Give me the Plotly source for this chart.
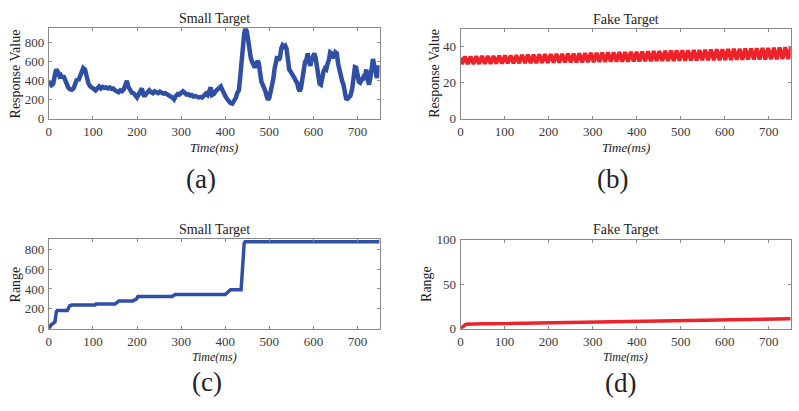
import plotly.graph_objects as go

W, H = 799, 411

# ---------------- data ----------------
small_t = [0, 3, 6, 10, 14, 17, 20, 24, 27, 30, 33, 36, 40, 44, 48, 52, 56, 60, 64, 67, 70, 74, 78, 82, 86, 90,
           94, 98, 102, 106, 110, 114, 118, 122, 126, 130, 134, 138, 142, 146, 150, 154, 158, 162, 166, 170, 174,
           177, 180, 184, 188, 192, 196, 200, 204, 208, 211, 214, 217, 220, 224, 228, 232, 236, 240, 244, 248, 252,
           256, 260, 264, 268, 272, 276, 280, 284, 288, 292, 296, 300, 304, 308, 312, 316, 320, 324, 328, 332, 336,
           340, 344, 348, 352, 356, 360, 364, 367, 370, 374, 378, 382, 386, 390, 393, 396, 400, 404, 408, 412, 416,
           420, 424, 428, 431, 434, 437, 440, 443, 446, 449, 452, 455, 458, 461, 464, 467, 470, 473, 476, 479, 482,
           485, 488, 491, 494, 497, 500, 503, 506, 509, 512, 515, 518, 521, 524, 527, 530, 533, 536, 539, 542, 545,
           548, 551, 554, 557, 560, 563, 566, 569, 572, 575, 578, 581, 584, 587, 590, 593, 596, 599, 602, 605, 608,
           611, 614, 617, 620, 623, 626, 629, 632, 635, 638, 641, 644, 647, 650, 653, 656, 659, 662, 665, 668, 671,
           674, 677, 680, 684, 688, 691, 694, 697, 700, 703, 706, 709, 712, 715, 718, 720, 723, 726, 729, 732, 735,
           738, 741, 744, 747, 750]
small_resp = [390, 380, 355, 370, 470, 520, 500, 450, 460, 430, 455, 420, 370, 330, 310, 305, 320, 370, 420, 400,
              440, 500, 535, 520, 440, 370, 340, 320, 315, 300, 330, 340, 320, 335, 325, 330, 320, 330, 315, 320,
              300, 290, 280, 300, 290, 310, 380, 400, 340, 300, 275, 270, 245, 225, 260, 310, 320, 260, 235, 260,
              280, 300, 280, 270, 290, 280, 270, 285, 270, 265, 270, 255, 250, 235, 225, 205, 240, 260, 255, 280,
              290, 275, 255, 260, 245, 250, 235, 240, 230, 225, 230, 225, 245, 265, 250, 320, 330, 250, 260, 290,
              310, 320, 340, 310, 270, 240, 210, 180, 165, 160, 185, 220, 280, 300, 440, 640, 780, 900, 955, 920,
              830, 700, 640, 600, 550, 540, 570, 610, 590, 480, 390, 360, 330, 290, 240, 200, 220, 280, 350, 420,
              530, 640, 660, 620, 640, 740, 775, 760, 770, 740, 620, 520, 500, 480, 470, 430, 400, 380, 320, 290,
              330, 450, 520, 600, 620, 690, 600, 560, 620, 680, 690, 640, 530, 450, 370, 360, 440, 500, 530, 520,
              580, 620, 700, 690, 660, 640, 700, 690, 580, 500, 470, 400, 360, 300, 215, 210, 230, 245, 320, 420,
              545, 540, 440, 390, 380, 400, 430, 410, 500, 520, 420, 360, 430, 560, 630, 560, 470, 430, 560, 510]

fake_half_period = 6.5
fake_start = 34.0
fake_peaks = [34.6, 34.7, 34.8, 34.9, 35.0, 35.0, 35.1, 35.2, 35.3, 35.4, 35.5, 35.6, 35.7, 35.8, 35.9, 36.0,
              36.1, 36.1, 36.2, 36.3, 36.4, 36.5, 36.6, 36.7, 36.8, 36.9, 37.0, 37.1, 37.1, 37.2, 37.3, 37.4,
              37.5, 37.6, 37.7, 37.8, 37.9, 38.0, 38.1, 38.1, 38.2, 38.3, 38.4, 38.5, 38.6, 38.7, 38.8, 38.9,
              39.0, 39.1, 39.1, 39.2, 39.3, 39.4, 39.5, 39.6, 39.8, 40.0]
fake_troughs = [30.4, 30.4, 30.5, 30.5, 30.6, 30.6, 30.7, 30.7, 30.8, 30.8, 30.9, 30.9, 31.0, 31.0, 31.1, 31.1,
                31.2, 31.2, 31.3, 31.3, 31.4, 31.4, 31.5, 31.5, 31.6, 31.6, 31.7, 31.7, 31.8, 31.8, 31.9, 31.9,
                32.0, 32.0, 32.1, 32.1, 32.2, 32.2, 32.3, 32.3, 32.4, 32.4, 32.5, 32.5, 32.6, 32.6, 32.7, 32.7,
                32.8, 32.8, 32.9, 32.9, 33.0, 33.0, 33.1, 33.1, 33.2, 33.2]

small_range_t = [0, 2, 5, 10, 14, 17, 19, 42, 44, 47, 52, 105, 107, 150, 155, 159, 190, 195, 199, 202, 280, 283,
                 287, 400, 405, 410, 412, 436, 440, 443, 445, 750]
small_range = [0, 20, 40, 55, 70, 170, 185, 185, 215, 230, 238, 238, 250, 250, 265, 280, 280, 290, 300, 325, 325,
               335, 345, 345, 365, 385, 392, 392, 700, 860, 875, 875]

fake_range_t = [0, 3, 8, 12, 50, 100, 150, 200, 250, 300, 350, 400, 450, 500, 550, 600, 650, 700, 750]
fake_range = [0, 1.5, 4.5, 5.2, 5.6, 6.0, 6.4, 6.9, 7.3, 7.7, 8.1, 8.5, 8.9, 9.3, 9.7, 10.1, 10.5, 10.9, 11.3]

x_ticks = [0, 100, 200, 300, 400, 500, 600, 700]

# build fake response series (alternating trough / peak samples)
fake_t = [0.0]
fake_resp = [fake_start]
for i, (tr, pk) in enumerate(zip(fake_troughs, fake_peaks)):
    fake_t.append(fake_half_period * (2 * i + 0.5))
    fake_resp.append(tr)
    fake_t.append(fake_half_period * (2 * i + 1.5))
    fake_resp.append(pk)

BLUE = "#2F4FA6"
RED = "#EE2229"
AX = "#8a8a8a"
TXT = "#3a3a3a"
FONT = "Liberation Serif"

fig = go.Figure()
fig.add_trace(go.Scatter(x=small_t, y=small_resp, mode="lines", line=dict(color=BLUE, width=4.5),
                         xaxis="x", yaxis="y", showlegend=False))
fig.add_trace(go.Scatter(x=fake_t, y=fake_resp, mode="lines", line=dict(color=RED, width=4),
                         xaxis="x2", yaxis="y2", showlegend=False))
fig.add_trace(go.Scatter(x=small_range_t, y=small_range, mode="lines", line=dict(color=BLUE, width=3.5),
                         xaxis="x3", yaxis="y3", showlegend=False))
fig.add_trace(go.Scatter(x=fake_range_t, y=fake_range, mode="lines", line=dict(color=RED, width=3.5),
                         xaxis="x4", yaxis="y4", showlegend=False))


def px(x):
    return x / W


def py(y):
    return 1 - y / H


def axis_common():
    return dict(showline=True, linecolor=AX, linewidth=1, mirror="ticks", ticks="inside", ticklen=3,
                tickcolor=AX, showgrid=False, zeroline=False,
                tickfont=dict(family=FONT, size=13, color=TXT))


boxes = {
    "1": dict(x=(46, 378), y=(22, 116), yr=[0, 955], yt=[0, 200, 400, 600, 800]),
    "2": dict(x=(459.3, 790.7), y=(22.7, 116), yr=[0, 50], yt=[0, 20, 40]),
    "3": dict(x=(46, 378), y=(241, 334), yr=[0, 900], yt=[0, 200, 400, 600, 800]),
    "4": dict(x=(459.3, 790.7), y=(241.7, 334), yr=[0, 100], yt=[0, 50, 100]),
}
lay = {}
for k, b in boxes.items():
    xa = "xaxis" if k == "1" else "xaxis" + k
    ya = "yaxis" if k == "1" else "yaxis" + k
    yref = "y" if k == "1" else "y" + k
    xref = "x" if k == "1" else "x" + k
    lay[xa] = dict(domain=[px(b["x"][0]), px(b["x"][1])], range=[0, 750], tickvals=x_ticks,
                   anchor=yref, ticklabelstandoff=1, **axis_common())
    lay[ya] = dict(domain=[py(b["y"][1]), py(b["y"][0])], range=b["yr"], tickvals=b["yt"],
                   anchor=xref, ticklabelstandoff=1, **axis_common())

fig.update_layout(width=W, height=H, margin=dict(l=0, r=0, t=0, b=0), paper_bgcolor="white",
                  plot_bgcolor="white", **lay)


def ann(text, x, y, size, italic=False, angle=0):
    fig.add_annotation(text=f"<i>{text}</i>" if italic else text, x=px(x), y=py(y), xref="paper", yref="paper",
                       showarrow=False, xanchor="center", yanchor="middle", textangle=angle,
                       font=dict(family=FONT, size=size, color="#222222"))


# titles
ann("Small Target", 212, 12, 14)
ann("Fake Target", 625, 12.5, 14)
ann("Small Target", 212, 231, 14)
ann("Fake Target", 625, 231, 14)
# y labels
ann("Response Value", 13, 69, 14, angle=-90)
ann("Response Value", 433, 69, 14, angle=-90)
ann("Range", 13, 288, 14, angle=-90)
ann("Range", 425, 287, 14, angle=-90)
# x labels
ann("Time(ms)", 212, 146, 13, italic=True)
ann("Time(ms)", 625, 146, 13, italic=True)
ann("Time(ms)", 212, 363, 12, italic=True)
ann("Time(ms)", 625, 363, 12, italic=True)
# panel labels
ann("(a)", 199, 178, 27)
ann("(b)", 612, 178, 27)
ann("(c)", 205, 389, 27)
ann("(d)", 620, 390, 27)

fig.write_html("out.html")
